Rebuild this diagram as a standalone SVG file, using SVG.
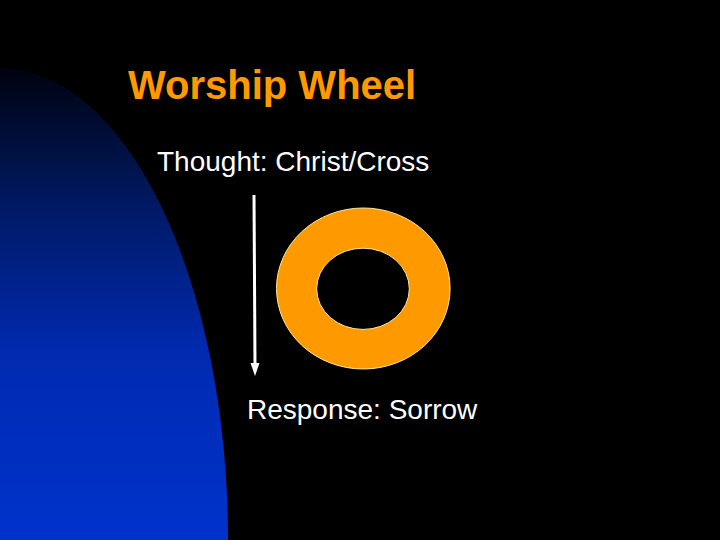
<svg xmlns="http://www.w3.org/2000/svg" width="720" height="540" viewBox="0 0 720 540">
<defs>
<linearGradient id="blue" x1="0" y1="0" x2="0" y2="1">
<stop offset="0" stop-color="#00030f"/>
<stop offset="0.3" stop-color="#001a66"/>
<stop offset="0.6" stop-color="#002ab0"/>
<stop offset="1" stop-color="#0033cc"/>
</linearGradient>
<style>
.t{font-family:"Liberation Sans",Arial,sans-serif;fill:#ffffff;font-size:28px}
.title{font-family:"Liberation Sans",Arial,sans-serif;fill:#ff9900;font-size:40px;font-weight:bold}
</style>
</defs>
<rect width="720" height="540" fill="#000000"/>
<path d="M0,540 L0,68 A228,472 0 0 1 228,540 Z" fill="url(#blue)"/>
<g id="title"><text class="title" x="128" y="99">Worship Wheel</text></g>
<g id="thought"><text class="t" x="157" y="171">Thought: Christ/Cross</text></g>
<g id="wheel">
<path fill-rule="evenodd" fill="#ff9900" stroke="#ffe9a0" stroke-width="1" d="M276.5,288.5 A86.8,80.5 0 1 0 450.1,288.5 A86.8,80.5 0 1 0 276.5,288.5 Z M316.7,288.8 A46.3,40.6 0 1 1 409.3,288.8 A46.3,40.6 0 1 1 316.7,288.8 Z"/>
</g>
<g id="response"><text class="t" x="247" y="419">Response: Sorrow</text></g>
<g id="connectors">
<line x1="254" y1="195" x2="255" y2="364" stroke="#ffffff" stroke-width="3"/>
<path d="M250.5,363 L259.5,363 L255,376 Z" fill="#ffffff"/>
</g>
</svg>
